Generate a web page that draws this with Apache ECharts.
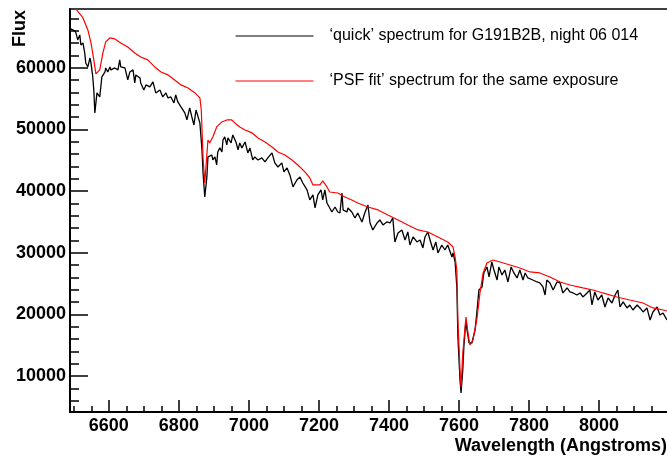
<!DOCTYPE html>
<html>
<head>
<meta charset="utf-8">
<script src="https://cdn.jsdelivr.net/npm/echarts@6/dist/echarts.min.js"></script>
<style>html,body{margin:0;padding:0;background:#fff;}#c{width:667px;height:459px;}</style>
</head>
<body>
<div id="c"></div>
<script>
// ---- data (wavelength in Angstroms, flux) ----
const quickName = '‘quick’ spectrum for G191B2B, night 06 014';
const psfName = '‘PSF fit’ spectrum for the same exposure';

const psfWl = [6489,6506,6511,6526,6540,6549,6557,6563,6574,6583,6591,6603,6617,6634,6654,6674,6691,6711,6731,6749,6769,6788,6806,6826,6846,6860,6864,6869,6874,6883,6888,6897,6908,6923,6937,6951,6960,6974,6989,7009,7026,7046,7066,7083,7103,7123,7140,7160,7174,7183,7203,7211,7223,7231,7254,7274,7294,7311,7340,7369,7397,7426,7454,7483,7511,7540,7568,7583,7589,7594,7597,7603,7606,7611,7620,7626,7631,7640,7651,7660,7669,7680,7697,7717,7746,7774,7803,7831,7860,7889,7917,7954,7983,8011,8051,8088,8126,8154,8183,8194];
const psfFlux = [70800,69500,69350,68050,66110,64000,61250,58980,59630,62380,64170,64810,64650,64000,63350,62380,61730,61250,60110,59300,58820,58010,57200,56710,55900,55090,53140,45530,41310,48280,47800,48770,50390,51200,51520,51520,51040,50390,49900,49420,48610,47960,47150,46340,45850,45040,44230,43100,42120,40990,40990,41640,40670,39850,39690,39040,38560,38070,37420,36940,36130,35320,34510,33700,33370,32560,31750,30940,29320,27210,19110,11010,8250,13760,19600,17000,15060,15870,19110,23490,26730,28350,28830,28510,28020,27540,26890,26730,26080,25270,24780,24300,23970,23490,22840,22350,21860,21060,20730,20570];

const quickWl = [6491,6503,6506,6511,6517,6520,6526,6531,6534,6540,6546,6549,6554,6557,6560,6566,6574,6577,6580,6589,6591,6597,6603,6606,6617,6626,6631,6634,6646,6654,6660,6669,6674,6677,6689,6691,6700,6706,6717,6726,6734,6746,6754,6763,6769,6777,6786,6791,6797,6806,6817,6823,6831,6837,6843,6849,6854,6860,6866,6869,6874,6880,6883,6888,6894,6897,6903,6908,6911,6917,6923,6926,6931,6937,6940,6949,6954,6963,6969,6974,6980,6989,6997,7003,7011,7017,7026,7037,7046,7054,7066,7074,7083,7094,7100,7109,7117,7126,7137,7146,7154,7166,7174,7183,7189,7197,7206,7211,7217,7223,7231,7237,7246,7254,7260,7266,7269,7280,7283,7294,7303,7311,7323,7331,7340,7346,7354,7366,7374,7383,7394,7403,7411,7417,7426,7437,7446,7454,7460,7469,7480,7489,7497,7503,7511,7520,7526,7534,7540,7551,7560,7568,7580,7583,7589,7594,7597,7603,7606,7611,7614,7620,7623,7629,7637,7646,7651,7657,7666,7671,7680,7686,7694,7700,7709,7714,7723,7731,7740,7749,7757,7766,7774,7783,7789,7797,7811,7823,7831,7840,7846,7851,7860,7869,7880,7889,7897,7909,7917,7926,7937,7946,7954,7966,7974,7980,7988,7997,8008,8017,8026,8037,8046,8054,8060,8069,8080,8088,8097,8109,8117,8126,8137,8146,8154,8166,8174,8183,8194];
const quickFlux = [66270,65950,65620,64490,65300,63680,64000,62380,60760,60110,61570,60760,58490,56380,52660,55900,55250,56870,58490,59300,59950,59300,60110,59630,59950,59630,61250,60110,59950,58010,59300,59630,57520,58820,58330,57520,56380,57200,56870,57680,55900,56380,55250,55900,55090,55250,54280,55580,54440,53630,52660,51530,53470,52010,50710,53140,53140,51040,46660,42930,39040,42290,45530,45370,45850,45040,45530,44230,46340,46990,46340,48280,48770,47470,48610,47800,49090,47960,46660,47800,46990,47960,46180,46990,45040,45530,45040,45370,44720,45370,46180,44560,43900,44560,43100,43750,42610,40670,41800,42290,41310,40180,38560,39370,37260,39370,40180,38560,40180,38070,37260,36610,37420,36610,36450,39690,36940,36610,37260,36610,35640,36450,34990,36450,37750,34830,33700,34830,35320,34510,34990,34830,35640,31750,33210,33700,32080,33370,31260,32560,31750,32080,30780,32560,33370,31590,30450,31750,29970,31260,30450,31260,29320,29970,28510,24460,16360,9390,7280,11010,14730,19110,17490,15380,15380,17490,20240,23970,24460,26730,27700,26080,28510,27210,25590,27700,26400,27210,25270,27700,26730,25920,27210,25590,26730,25920,25590,25270,25110,24460,23160,25590,25110,23970,25270,25110,23490,24300,23650,23490,23160,23490,22840,23490,23970,21540,23650,22350,23160,21220,22680,21860,23160,23970,21220,22030,21060,21540,20730,21540,21060,20410,21060,19110,20410,21220,19920,20240,19110];

const xMajorTicks = [6600,6800,7000,7200,7400,7600,7800,8000];
const xMinorTicks = [6500,6550,6650,6700,6750,6850,6900,6950,7050,7100,7150,7250,7300,7350,7450,7500,7550,7650,7700,7750,7850,7900,7950,8050,8100,8150];
const yMajorTicks = [10000,20000,30000,40000,50000,60000];
const yMinorTicks = [6000,8000,12000,14000,16000,18000,22000,24000,26000,28000,32000,34000,36000,38000,42000,44000,46000,48000,52000,54000,56000,58000,62000,64000,66000,68000];

const X_MIN = 6489, X_MAX = 8200, Y_MIN = 4200, Y_MAX = 69500;

const psfData = psfWl.map((w, i) => [w, psfFlux[i]]);
const quickData = quickWl.map((w, i) => [w, quickFlux[i]]);

const FONT = 'Liberation Sans, Arial, Helvetica, sans-serif';
const chart = echarts.init(document.getElementById('c'), null, {renderer: 'canvas'});
const labelStyle = {color: '#000', fontFamily: FONT, fontSize: 18, fontWeight: 'bold'};
const plain = v => String(Math.round(v));

chart.setOption({
  animation: false,
  backgroundColor: '#fff',
  grid: {left: 70, right: -2, top: 9, bottom: 47, show: true, borderColor: '#000', borderWidth: 1.5, backgroundColor: 'transparent', outerBoundsMode: 'none', containLabel: false},
  legend: {
    orient: 'vertical', left: 235, top: 28, padding: 0,
    itemWidth: 78, itemHeight: 14, itemGap: 29,
    data: [quickName, psfName],
    itemStyle: {opacity: 0},
    lineStyle: {width: 1},
    textStyle: {color: '#000', fontFamily: FONT, fontSize: 16, padding: [0, 0, 0, 11]},
    selectedMode: false
  },
  xAxis: [
    {
      type: 'value', min: X_MIN, max: X_MAX, position: 'bottom',
      name: 'Wavelength (Angstroms)', nameLocation: 'end', nameGap: -2,
      nameTextStyle: Object.assign({}, labelStyle, {align: 'right', verticalAlign: 'top', padding: [25, 0, 0, 0]}),
      axisLine: {show: true, onZero: false, lineStyle: {color: '#000', width: 2}},
      axisTick: {show: true, inside: true, length: 12, customValues: xMajorTicks, lineStyle: {color: '#000', width: 1.5}},
      axisLabel: Object.assign({show: true, customValues: xMajorTicks, margin: 5, formatter: plain}, labelStyle),
      splitLine: {show: false}
    },
    {
      type: 'value', min: X_MIN, max: X_MAX, position: 'bottom',
      axisLine: {show: false},
      axisTick: {show: true, inside: true, length: 6, customValues: xMinorTicks, lineStyle: {color: '#000', width: 1.5}},
      axisLabel: {show: false},
      splitLine: {show: false}
    }
  ],
  yAxis: [
    {
      type: 'value', min: Y_MIN, max: Y_MAX, position: 'left',
      axisLine: {show: true, onZero: false, lineStyle: {color: '#000', width: 2}},
      axisTick: {show: true, inside: true, length: 18, customValues: yMajorTicks, lineStyle: {color: '#000', width: 1.5}},
      axisLabel: Object.assign({show: true, customValues: yMajorTicks, margin: 4, formatter: plain}, labelStyle),
      splitLine: {show: false}
    },
    {
      type: 'value', min: Y_MIN, max: Y_MAX, position: 'left',
      axisLine: {show: false},
      axisTick: {show: true, inside: true, length: 9, customValues: yMinorTicks, lineStyle: {color: '#000', width: 1.5}},
      axisLabel: {show: false},
      splitLine: {show: false}
    }
  ],
  graphic: [
    {
      type: 'text', x: 20, y: 10, rotation: Math.PI / 2,
      style: {text: 'Flux', fill: '#000', font: 'bold 18px ' + FONT, align: 'right', verticalAlign: 'middle'}
    }
  ],
  series: [
    {
      name: quickName, type: 'line', data: quickData, xAxisIndex: 0, yAxisIndex: 0,
      symbol: 'none', lineStyle: {color: '#000', width: 1.3}, itemStyle: {color: '#000'}, clip: true
    },
    {
      name: psfName, type: 'line', data: psfData, xAxisIndex: 0, yAxisIndex: 0,
      symbol: 'none', lineStyle: {color: '#ff0000', width: 1.2}, itemStyle: {color: '#ff0000'}, clip: true
    }
  ]
});
</script>
</body>
</html>
